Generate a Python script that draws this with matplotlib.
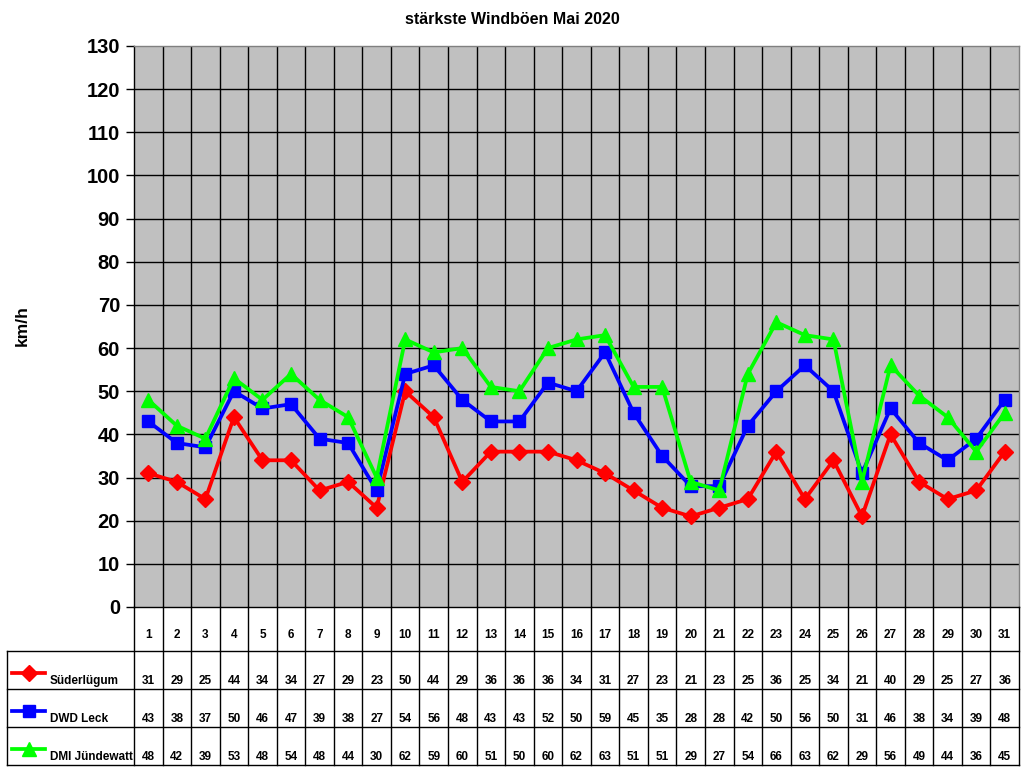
import matplotlib
matplotlib.use("Agg")
import matplotlib.pyplot as plt
import numpy as np

plt.rcParams['font.family'] = ['Liberation Sans', 'DejaVu Sans']
plt.rcParams['font.weight'] = 'bold'

days = list(range(1, 32))
suederluegum = [31, 29, 25, 44, 34, 34, 27, 29, 23, 50, 44, 29, 36, 36, 36, 34,
                31, 27, 23, 21, 23, 25, 36, 25, 34, 21, 40, 29, 25, 27, 36]
dwd_leck = [43, 38, 37, 50, 46, 47, 39, 38, 27, 54, 56, 48, 43, 43, 52, 50,
            59, 45, 35, 28, 28, 42, 50, 56, 50, 31, 46, 38, 34, 39, 48]
dmi_juendewatt = [48, 42, 39, 53, 48, 54, 48, 44, 30, 62, 59, 60, 51, 50, 60, 62,
                  63, 51, 51, 29, 27, 54, 66, 63, 62, 29, 56, 49, 44, 36, 45]
names = ["Süderlügum", "DWD Leck", "DMI Jündewatt"]
series = [suederluegum, dwd_leck, dmi_juendewatt]
styles = [("#FF0000", "D", 8), ("#0000FF", "s", 9), ("#00FF00", "^", 10)]

W, H = 1024, 768
fig = plt.figure(figsize=(W / 100, H / 100), dpi=100)

# plot area in pixels
px0, px1, py0, py1 = 134, 1019, 46, 607
ax = fig.add_axes([px0 / W, 1 - py1 / H, (px1 - px0) / W, (py1 - py0) / H])
ax.set_facecolor("#C0C0C0")
ax.set_xlim(0.5, 31.5)
ax.set_ylim(0, 130)
ax.set_yticks(np.arange(0, 131, 10))
ax.set_xticks([])
for b in np.arange(1.5, 31.5, 1):
    ax.axvline(b, color="black", lw=1, zorder=1)
for v in np.arange(10, 130, 10):
    ax.axhline(v, color="black", lw=1, zorder=1)
for s in ax.spines.values():
    s.set_color("#808080")
    s.set_linewidth(1)
ax.spines['bottom'].set_color("black")
ax.spines['left'].set_color("black")
ax.tick_params(axis='y', length=6, width=1, labelsize=14.5, pad=4)
for lab in ax.get_yticklabels():
    lab.set_fontweight('bold')

for vals, (col, mk, ms) in zip(series, styles):
    ax.plot(days, vals, color=col, lw=2.7, marker=mk, ms=ms, zorder=3)

fig.text(22 / W, 1 - 326 / H, "km/h", rotation=90, ha='center', va='center',
         fontsize=12.5, fontweight='bold')
fig.text(0.5, 1 - 20 / H, "stärkste Windböen Mai 2020", ha='center', va='center',
         fontsize=11.5, fontweight='bold')

# data table below the chart
tab = fig.add_axes([px0 / W, 1 - 765 / H, (px1 - px0) / W, (765 - py1) / H])
tab.set_xlim(0.5, 31.5)
tab.set_ylim(765, 607)
tab.axis('off')
left = 0.5 - (px0 - 7) / (px1 - px0) * 31
rows = [607, 651, 689, 727, 765]
kw = dict(color="black", lw=1, clip_on=False)
for b in np.arange(0.5, 32.5, 1):
    tab.plot([b, b], [607, 765], **kw)
tab.plot([left, left], [651, 765], **kw)
for r in rows[1:]:
    tab.plot([left, 31.5], [r, r], **kw)

for d in days:
    tab.text(d, 635, str(d), ha='center', va='center', fontsize=8.5, fontweight='bold')
for i, (name, vals, (col, mk, ms)) in enumerate(zip(names, series, styles)):
    ybase = rows[i + 1] + 30
    for d, v in zip(days, vals):
        tab.text(d, ybase, str(v), ha='center', va='center', fontsize=8.5, fontweight='bold')
    lx0 = left + 5 / (px1 - px0) * 31
    lx1 = left + 38 / (px1 - px0) * 31
    tab.plot([lx0, lx1], [ybase - 8, ybase - 8], color=col, lw=2.7, clip_on=False)
    tab.plot([(lx0 + lx1) / 2], [ybase - 8], color=col, marker=mk, ms=ms, clip_on=False)
    tab.text(left + 43 / (px1 - px0) * 31, ybase, name, ha='left', va='center',
             fontsize=8.5, fontweight='bold')

fig.savefig("out.png", dpi=100)
